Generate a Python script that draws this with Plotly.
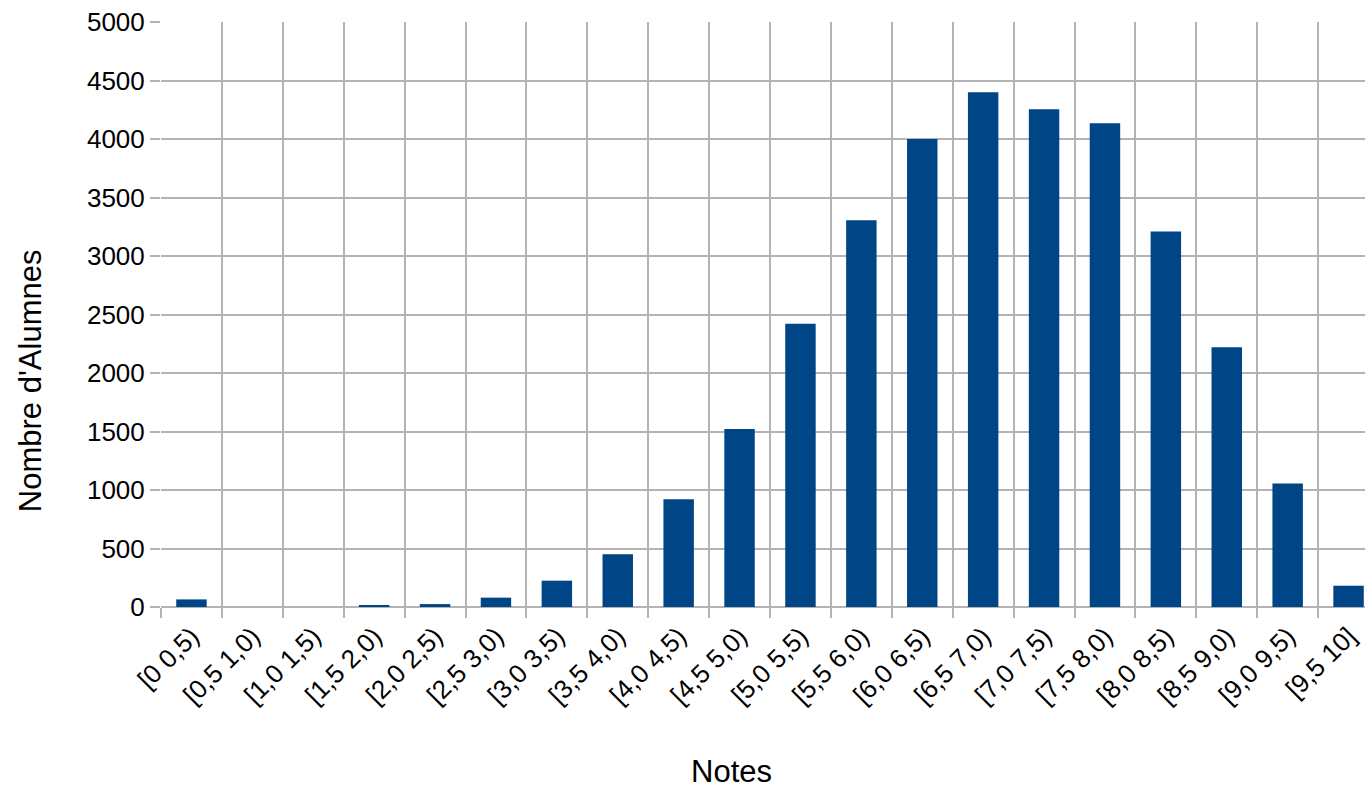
import plotly.graph_objects as go

categories = ["[0 0,5)", "[0,5 1,0)", "[1,0 1,5)", "[1,5 2,0)", "[2,0 2,5)", "[2,5 3,0)",
              "[3,0 3,5)", "[3,5 4,0)", "[4,0 4,5)", "[4,5 5,0)", "[5,0 5,5)", "[5,5 6,0)",
              "[6,0 6,5)", "[6,5 7,0)", "[7,0 7,5)", "[7,5 8,0)", "[8,0 8,5)", "[8,5 9,0)",
              "[9,0 9,5)", "[9,5 10]"]
counts = [65, 0, 0, 15, 25, 80, 225, 450, 920, 1521, 2420, 3305, 4000, 4400, 4254, 4134,
          3210, 2220, 1055, 182]
y_ticks = list(range(0, 5001, 500))

x_title = "Notes"
y_title = "Nombre d'Alumnes"

FONT = "Liberation Sans, Arial, sans-serif"
GRID = "#b3b3b3"

fig = go.Figure()
fig.add_trace(go.Bar(x=categories, y=counts, marker=dict(color="#004586", line=dict(width=0)),
                     width=0.5))

fig.update_layout(
    width=1365, height=790,
    margin=dict(l=161, r=0, t=22, b=183),
    paper_bgcolor="white", plot_bgcolor="white",
    font=dict(family=FONT, size=26, color="#000000"),
    showlegend=False,
    xaxis=dict(
        type="category",
        range=[-0.5, 19.27],
        tickson="boundaries",
        ticks="outside", ticklen=10, tickcolor=GRID, tickwidth=2,
        showgrid=True, gridcolor=GRID, gridwidth=2,
        tickangle=-45,
        ticklabelstandoff=8,
        tickfont=dict(family=FONT, size=26, color="#000000"),
        showline=False, zeroline=False,
    ),
    yaxis=dict(
        range=[0, 5000],
        tickvals=y_ticks,
        ticks="outside", ticklen=10, tickcolor=GRID, tickwidth=2,
        showgrid=True, gridcolor=GRID, gridwidth=2,
        zeroline=True, zerolinecolor=GRID, zerolinewidth=2,
        tickfont=dict(family=FONT, size=26, color="#000000"),
        showline=False,
    ),
    annotations=[
        dict(text=x_title, xref="paper", yref="paper", x=0.474, y=-0.282,
             xanchor="center", yanchor="middle", showarrow=False,
             font=dict(family=FONT, size=31, color="#000000")),
        dict(text=y_title, xref="paper", yref="paper", x=-0.1088, y=0.386,
             xanchor="center", yanchor="middle", showarrow=False, textangle=-90,
             font=dict(family=FONT, size=31, color="#000000")),
    ],
)

# remove the browser's default 8px body margin so the figure sits at the page origin
fig.write_html("out.html", config={"displayModeBar": False},
               post_script="document.body.style.margin='0';document.body.style.overflow='hidden';")
